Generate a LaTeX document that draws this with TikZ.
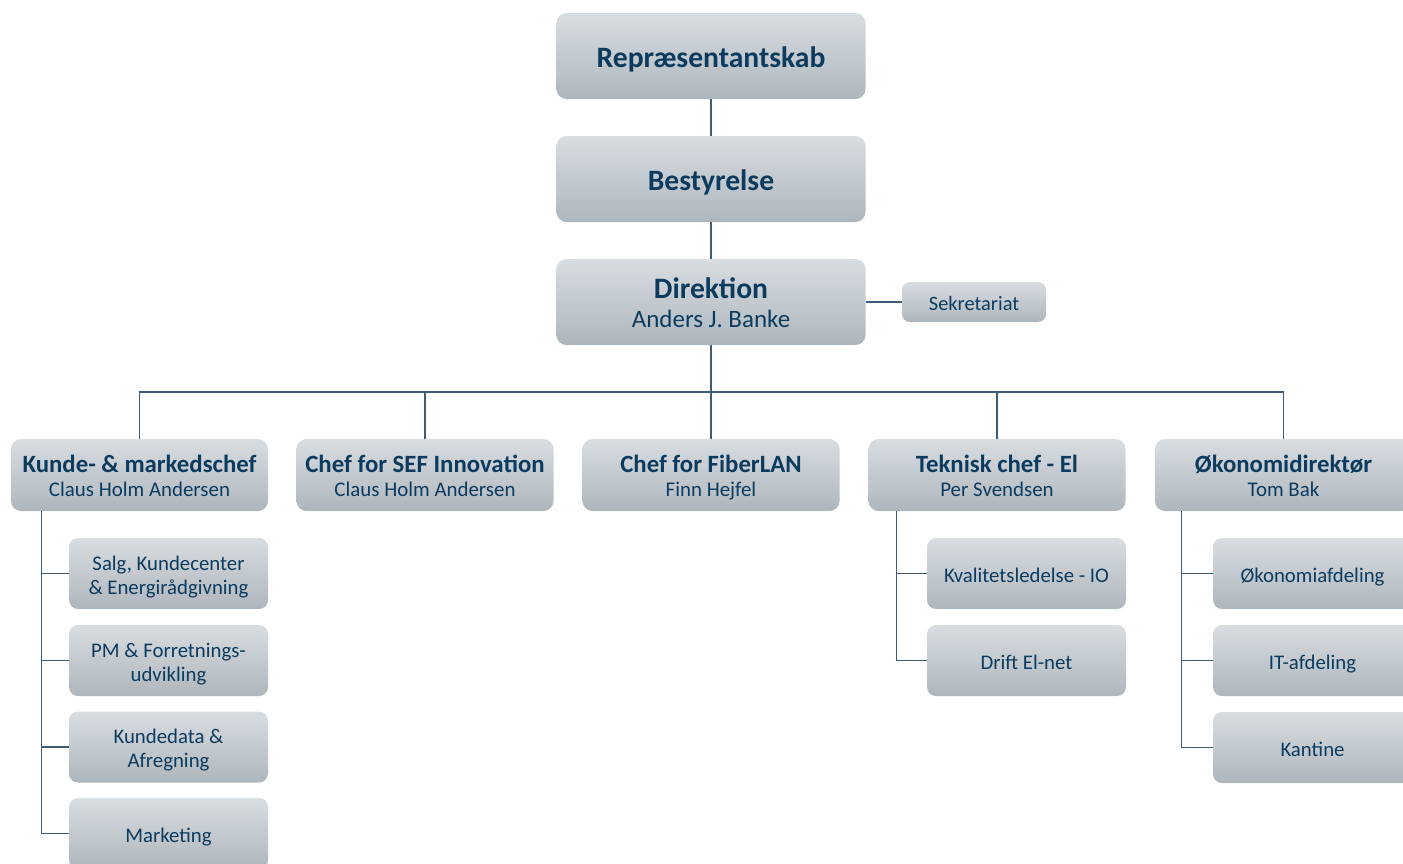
\documentclass[tikz,border=0pt]{standalone}
\usepackage{fontspec}
\setmainfont{Carlito}
\definecolor{textc}{HTML}{0D3B5E}
\definecolor{linec}{HTML}{3F5C75}
\definecolor{boxtop}{HTML}{D8DDE1}
\definecolor{boxbot}{HTML}{AEB6BD}
\tikzset{
  orgbox/.style={rectangle, rounded corners=10pt, top color=boxtop, bottom color=boxbot,
    draw=none, inner sep=0pt, align=center, text=textc, anchor=center},
  bigbox/.style={orgbox, minimum width=309pt, minimum height=86pt,
    text height=23.5pt, text depth=0pt,
    font=\fontsize{29.6}{30}\selectfont\bfseries},
  dirbox/.style={orgbox, minimum width=309pt, minimum height=86pt,
    text height=52pt, text depth=2pt,
    font=\fontsize{25}{29}\selectfont},
  lvltwo/.style={orgbox, minimum width=257pt, minimum height=72pt,
    text height=44pt, text depth=2pt,
    font=\fontsize{20.9}{24}\selectfont},
  subbox/.style={orgbox, rounded corners=9pt, minimum width=199pt, minimum height=71pt,
    text height=17pt, text depth=0pt,
    font=\fontsize{20.8}{24}\selectfont},
  subtwo/.style={subbox, text height=42pt, text depth=1pt},
  sekbox/.style={orgbox, rounded corners=8pt, minimum width=144pt, minimum height=40pt,
    text height=16pt, text depth=0pt,
    font=\fontsize{20.4}{24}\selectfont},
  conn/.style={draw=linec, line width=1.3pt},
}
\newcommand{\ttl}[1]{{\fontsize{24.8}{24}\selectfont\bfseries #1}}
\begin{document}
\begin{tikzpicture}[x=1pt,y=-1pt]
\useasboundingbox (0,0) rectangle (1403,863);
\clip (0,0) rectangle (1403,863);
% top chain
\node[bigbox] (rep) at (711,56) {Repræsentantskab};
\node[bigbox] (best) at (711,179) {Bestyrelse};
\node[dirbox] (dir) at (711,302) {{\fontsize{29.6}{29}\selectfont\bfseries Direktion}\\Anders J. Banke};
\node[sekbox] (sek) at (974,302) {Sekretariat};
% level two
\node[lvltwo] (kunde) at (139.5,475) {\ttl{Kunde- \& markedschef}\\Claus Holm Andersen};
\node[lvltwo] (sef) at (425,475) {\ttl{Chef for SEF Innovation}\\Claus Holm Andersen};
\node[lvltwo] (fiber) at (711,475) {\ttl{Chef for FiberLAN}\\Finn Hejfel};
\node[lvltwo] (tek) at (997,475) {\ttl{Teknisk chef - El}\\Per Svendsen};
\node[lvltwo] (oko) at (1283.5,475) {\ttl{Økonomidirektør}\\Tom Bak};
% level three, left
\node[subtwo] (salg) at (168.5,573.5) {Salg, Kundecenter\\\& Energirådgivning};
\node[subtwo] (pm) at (168.5,660.5) {PM \& Forretnings-\\udvikling};
\node[subtwo] (kdata) at (168.5,747) {Kundedata \&\\Afregning};
\node[subbox] (mark) at (168.5,833.5) {Marketing};
% level three, teknisk
\node[subbox] (kval) at (1026.5,573.5) {Kvalitetsledelse - IO};
\node[subbox] (drift) at (1026.5,660.5) {Drift El-net};
% level three, oekonomi
\node[subbox] (okaf) at (1312.5,573.5) {Økonomiafdeling};
\node[subbox] (it) at (1312.5,660.5) {IT-afdeling};
\node[subbox] (kant) at (1312.5,747.5) {Kantine};
% connectors
\draw[conn] (rep.south) -- (best.north);
\draw[conn] (best.south) -- (dir.north);
\draw[conn] (dir.east) -- (sek.west);
\coordinate (bus) at (711,392);
\draw[conn] (dir.south) -- (bus);
\foreach \n in {kunde,sef,fiber,tek,oko} {\draw[conn] (bus) -| (\n.north);}
\coordinate (spK) at ([xshift=31pt]kunde.south west);
\coordinate (spT) at ([xshift=28pt]tek.south west);
\coordinate (spO) at ([xshift=27pt]oko.south west);
\foreach \n in {salg,pm,kdata,mark} {\draw[conn] (spK) |- (\n.west);}
\foreach \n in {kval,drift} {\draw[conn] (spT) |- (\n.west);}
\foreach \n in {okaf,it,kant} {\draw[conn] (spO) |- (\n.west);}
\end{tikzpicture}
\end{document}
